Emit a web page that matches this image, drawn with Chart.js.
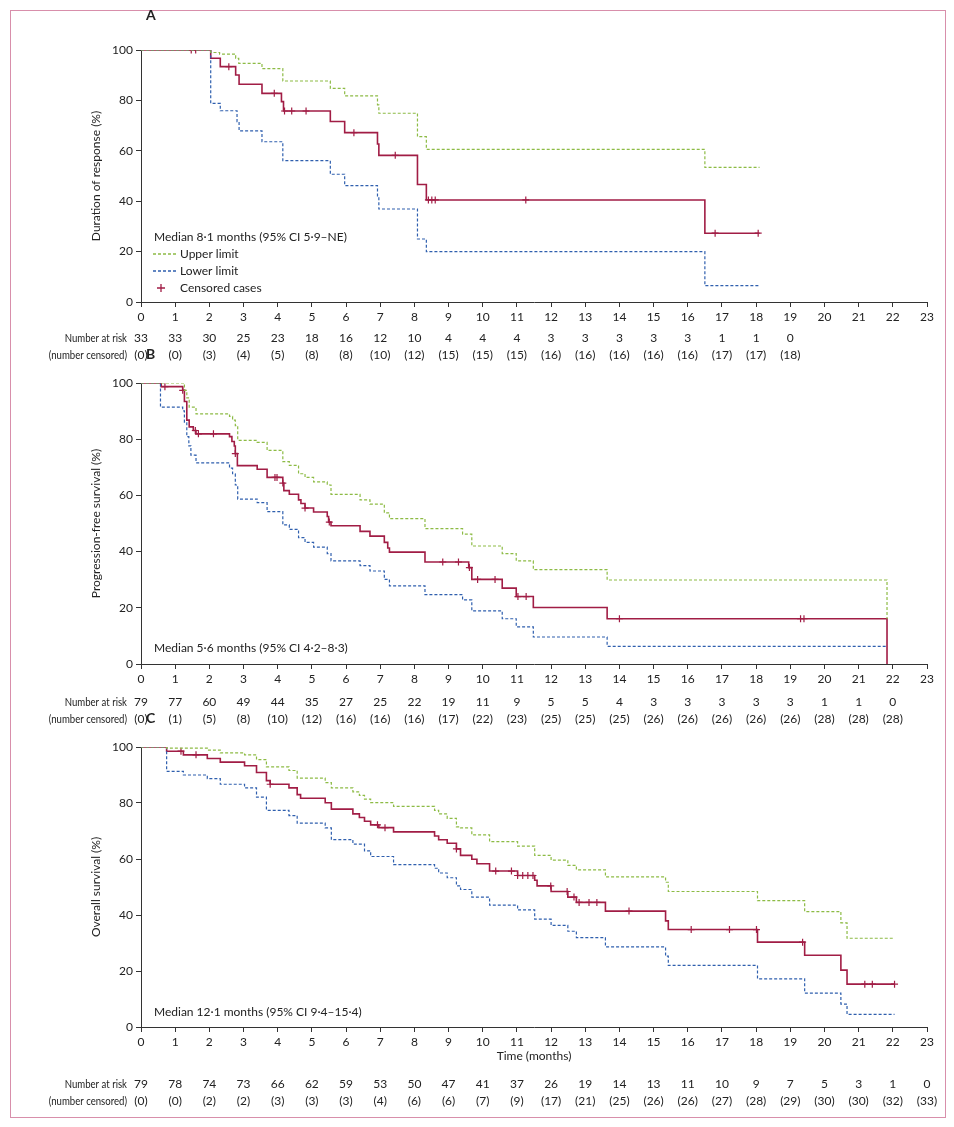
<!DOCTYPE html>
<html>
<head>
<meta charset="utf-8">
<script src="https://cdn.jsdelivr.net/npm/chart.js@4.4.1/dist/chart.umd.min.js"></script>
<style>
  body { margin: 0; background: #fff; }
  #wrap { position: relative; width: 954px; height: 1127px; }
  #frame { position: absolute; left: 10px; top: 10px; width: 934px; height: 1106px; border: 1.5px solid #d88fab; }
  canvas { position: absolute; left: 0; }
  .letter { position: absolute; left: 146px; font: bold 14px Lato, "Open Sans", sans-serif; color: #222; }
</style>
</head>
<body>
<div id="wrap">
  <div id="frame"></div>
  <canvas id="cA" style="top:0px"></canvas>
  <canvas id="cB" style="top:340px"></canvas>
  <canvas id="cC" style="top:705px"></canvas>
  <div class="letter" style="top:6px">A</div>
  <div class="letter" style="top:345px">B</div>
  <div class="letter" style="top:709px">C</div>
</div>
<script>
// ---- Panel A: duration of response ----
var aTimes = [2.04, 2.32, 2.77, 2.87, 3.54, 4.11, 4.17, 5.54, 5.96, 6.92, 6.96, 8.09, 8.35, 16.5, 18.1];
var aEst   = [96.7, 93.4, 90.1, 86.4, 82.8, 79.5, 75.8, 71.6, 67.2, 62.7, 58.2, 46.6, 40.5, 27.3, 27.3];
var aUpTimes = [2.04, 2.3, 2.77, 2.86, 3.54, 4.15, 5.54, 5.96, 6.92, 6.96, 8.09, 8.35, 16.5, 18.1];
var aUp      = [99.0, 98.4, 96.7, 94.7, 92.6, 87.7, 84.8, 81.8, 78.2, 74.9, 65.6, 60.6, 53.4, 53.4];
var aLoTimes = [2.04, 2.32, 2.81, 2.87, 3.54, 4.15, 5.54, 5.96, 6.92, 6.96, 8.09, 8.35, 16.5, 18.1];
var aLo      = [78.8, 75.9, 71.6, 67.9, 63.6, 56.1, 50.7, 46.2, 41.8, 36.9, 25.0, 20.0, 6.5, 6.5];
var aCensor  = [1.47, 1.6, 2.57, 3.9, 4.2, 4.41, 4.83, 6.23, 7.44, 8.41, 8.51, 8.61, 11.26, 16.8, 18.06];
var aRisk    = [33, 33, 30, 25, 23, 18, 16, 12, 10, 4, 4, 4, 3, 3, 3, 3, 3, 1, 1, 0];
var aCens    = [0, 0, 3, 4, 5, 8, 8, 10, 12, 15, 15, 15, 16, 16, 16, 16, 16, 17, 17, 18];

// ---- Panel B: progression-free survival ----
var bTimes = [0.59, 1.22, 1.27, 1.34, 1.41, 1.53, 1.61, 2.59, 2.66, 2.73, 2.76, 2.82, 3.40, 3.69, 4.15, 4.18, 4.34, 4.61, 4.68, 4.80, 5.05, 5.45, 5.49, 5.56, 6.41, 6.70, 7.12, 7.22, 7.27, 8.31, 9.59, 9.68, 10.57, 10.98, 11.48, 13.64, 21.83, 21.83];
var bEst   = [98.7, 97.4, 93.4, 86.8, 84.4, 83.1, 81.9, 80.9, 79.2, 77.6, 74.9, 70.6, 69.3, 66.4, 64.4, 61.7, 60.4, 58.4, 57.1, 55.5, 54.1, 52.5, 50.5, 49.2, 47.2, 45.5, 43.3, 41.3, 39.8, 36.3, 34.3, 30.1, 27.0, 24.0, 20.1, 16.1, 16.1, 0];
var bUpTimes = [1.27, 1.34, 1.41, 1.61, 2.59, 2.68, 2.76, 2.83, 3.40, 3.69, 4.15, 4.34, 4.61, 4.80, 5.05, 5.45, 5.56, 6.41, 6.70, 7.12, 7.27, 8.31, 9.41, 9.68, 10.57, 10.98, 11.48, 13.64, 21.83, 21.83];
var bUp      = [97.4, 94.7, 91.4, 89.0, 88.1, 86.8, 84.8, 79.6, 78.9, 76.0, 72.0, 70.7, 67.7, 66.4, 64.8, 63.7, 60.4, 58.4, 56.9, 53.8, 51.7, 48.2, 46.2, 42.0, 39.3, 36.7, 33.6, 29.9, 29.9, 16.1];
var bLoTimes = [0.57, 1.22, 1.27, 1.34, 1.40, 1.46, 1.61, 2.59, 2.68, 2.76, 2.83, 3.40, 3.69, 4.15, 4.34, 4.61, 4.80, 5.05, 5.45, 5.56, 6.41, 6.70, 7.12, 7.27, 8.31, 9.41, 9.68, 10.57, 10.98, 11.48, 13.64, 21.83];
var bLo      = [91.4, 90.1, 86.1, 80.9, 77.6, 74.3, 71.6, 69.7, 67.7, 63.7, 58.7, 57.4, 54.2, 49.5, 47.9, 45.0, 43.3, 41.6, 39.3, 36.7, 35.0, 33.1, 30.1, 27.8, 24.7, 22.8, 18.9, 16.1, 13.2, 9.6, 6.3, 6.3];
var bCensor  = [0.7, 1.22, 1.59, 1.68, 2.12, 2.76, 3.92, 3.98, 4.15, 4.8, 5.51, 8.83, 9.29, 9.61, 9.85, 10.36, 11.03, 11.27, 14.0, 19.3, 19.4];
var bRisk    = [79, 77, 60, 49, 44, 35, 27, 25, 22, 19, 11, 9, 5, 5, 4, 3, 3, 3, 3, 3, 1, 1, 0];
var bCens    = [0, 1, 5, 8, 10, 12, 16, 16, 16, 17, 22, 23, 25, 25, 25, 26, 26, 26, 26, 26, 28, 28, 28];

// ---- Panel C: overall survival ----
var cTimes = [0.75, 1.24, 1.94, 2.32, 3.03, 3.38, 3.67, 3.78, 4.33, 4.57, 4.67, 5.39, 5.57, 6.20, 6.39, 6.54, 6.72, 6.96, 7.39, 8.59, 8.71, 8.96, 9.23, 9.35, 9.68, 9.83, 10.2, 11.02, 11.52, 11.59, 12.0, 12.49, 12.74, 13.59, 15.35, 15.43, 18.04, 19.42, 20.48, 20.66, 22.05];
var cEst   = [98.5, 97.2, 95.9, 94.6, 93.3, 90.9, 88.0, 86.7, 85.4, 83.0, 81.7, 80.1, 77.8, 76.1, 74.8, 73.5, 72.2, 71.2, 69.7, 68.2, 66.9, 65.6, 63.6, 61.3, 59.9, 58.3, 55.7, 54.1, 52.4, 50.4, 48.4, 46.4, 44.5, 41.4, 37.9, 34.8, 30.3, 25.6, 20.3, 15.3, 15.3];
var cUpTimes = [0.75, 1.94, 2.32, 3.03, 3.38, 3.67, 4.33, 4.57, 5.39, 5.57, 6.20, 6.39, 6.54, 6.72, 7.39, 8.59, 8.71, 8.96, 9.23, 9.35, 9.68, 10.2, 11.02, 11.52, 12.0, 12.49, 12.74, 13.59, 15.35, 15.43, 18.04, 19.42, 20.48, 20.66, 22.05];
var cUp      = [99.6, 98.9, 97.9, 97.2, 95.5, 92.9, 91.6, 88.9, 87.3, 85.4, 84.0, 82.7, 81.4, 80.1, 78.8, 77.4, 76.1, 74.5, 71.5, 71.1, 68.6, 66.2, 64.6, 61.3, 59.6, 57.7, 56.1, 53.6, 51.7, 48.4, 45.1, 41.2, 37.2, 31.7, 31.7];
var cLoTimes = [0.75, 1.24, 1.94, 2.32, 3.03, 3.38, 3.67, 4.33, 4.57, 5.39, 5.57, 6.20, 6.54, 6.72, 7.39, 8.59, 8.71, 8.96, 9.23, 9.35, 9.68, 10.2, 11.02, 11.52, 12.0, 12.49, 12.74, 13.59, 15.35, 15.43, 18.04, 19.42, 20.48, 20.66, 22.05];
var cLo      = [91.3, 90.0, 88.7, 86.7, 85.4, 82.1, 77.4, 75.5, 72.8, 71.1, 66.9, 65.3, 62.9, 60.9, 58.0, 56.7, 55.0, 53.3, 50.4, 49.1, 46.4, 43.5, 41.8, 38.5, 36.3, 34.2, 31.9, 28.6, 25.3, 22.0, 17.2, 12.1, 8.2, 4.5, 4.5];
var cCensor  = [1.17, 1.61, 3.78, 6.92, 7.14, 9.23, 10.38, 10.84, 11.02, 11.17, 11.32, 11.47, 11.99, 12.47, 12.67, 12.82, 13.11, 13.34, 14.28, 16.1, 17.22, 18.01, 19.36, 21.18, 21.4, 22.05];
var cRisk    = [79, 78, 74, 73, 66, 62, 59, 53, 50, 47, 41, 37, 26, 19, 14, 13, 11, 10, 9, 7, 5, 3, 1, 0];
var cCens    = [0, 0, 2, 2, 3, 3, 3, 4, 6, 6, 7, 9, 17, 21, 25, 26, 26, 27, 28, 29, 30, 30, 32, 33];

var RED = '#a11d45', GREEN = '#8dbb45', BLUE = '#2f5fae', TXT = '#222';
var FONT = 'Lato, "Open Sans", sans-serif';

function steps(times, vals) {
    var pts = [{x: 0, y: 100}];
    for (var i = 0; i < times.length; i++) pts.push({x: times[i], y: vals[i]});
    return pts;
}

function survAt(times, vals, t) {
    var v = 100;
    for (var i = 0; i < times.length; i++) {
        if (times[i] <= t + 1e-9 && vals[i] > 0) v = vals[i];
    }
    return v;
}

// narrow text, like the condensed face of the original
function narrowText(ctx, s, x, y, align) {
    ctx.save();
    ctx.translate(x, y);
    ctx.scale(0.8, 1);
    ctx.textAlign = align;
    ctx.fillText(s, 0, 0);
    ctx.restore();
}

function makePanel(id, cfg) {
    var canvas = document.getElementById(id);
    canvas.width = 954;
    canvas.height = cfg.height;
    canvas.style.width = '954px';
    canvas.style.height = cfg.height + 'px';

    var censorPts = cfg.censor.map(function (t) {
        return {x: t, y: survAt(cfg.times, cfg.est, t)};
    });

    var decor = {
        id: 'decor',
        afterDraw: function (chart) {
            var ctx = chart.ctx, area = chart.chartArea, xs = chart.scales.x;
            ctx.save();
            ctx.fillStyle = TXT;
            ctx.textBaseline = 'middle';
            // y title
            ctx.font = '12px ' + FONT;
            ctx.save();
            ctx.translate(96, (area.top + area.bottom) / 2);
            ctx.rotate(-Math.PI / 2);
            ctx.textAlign = 'center';
            ctx.fillText(cfg.yTitle, 0, 0);
            ctx.restore();
            // median text + legend
            ctx.textAlign = 'left';
            ctx.fillText(cfg.median, 154, cfg.medianY);
            if (cfg.legend) {
                var items = [['Upper limit', GREEN], ['Lower limit', BLUE]];
                items.forEach(function (it, i) {
                    var y = cfg.medianY + 17 * (i + 1);
                    ctx.strokeStyle = it[1];
                    ctx.lineWidth = 1.3;
                    ctx.setLineDash([3, 2]);
                    ctx.beginPath(); ctx.moveTo(153, y); ctx.lineTo(177, y); ctx.stroke();
                    ctx.setLineDash([]);
                    ctx.fillText(it[0], 180, y);
                });
                var y3 = cfg.medianY + 51;
                ctx.strokeStyle = RED; ctx.lineWidth = 1.3;
                ctx.beginPath();
                ctx.moveTo(161, y3 - 4); ctx.lineTo(161, y3 + 4);
                ctx.moveTo(157, y3); ctx.lineTo(165, y3);
                ctx.stroke();
                ctx.fillText('Censored cases', 180, y3);
            }
            // number at risk table
            var r1 = area.bottom + cfg.riskOff, r2 = r1 + 17;
            narrowText(ctx, 'Number at risk', 127, r1, 'right');
            narrowText(ctx, '(number censored)', 127, r2, 'right');
            ctx.textAlign = 'center';
            for (var i = 0; i < cfg.risk.length; i++) {
                var px = xs.getPixelForValue(i);
                ctx.fillText(String(cfg.risk[i]), px, r1);
                ctx.fillText('(' + cfg.cens[i] + ')', px, r2);
            }
            ctx.restore();
        }
    };

    return new Chart(canvas, {
        type: 'line',
        data: {
            datasets: [
                {data: steps(cfg.upT, cfg.up), borderColor: GREEN, borderWidth: 1.2, borderDash: [3, 2], stepped: 'before', pointRadius: 0},
                {data: steps(cfg.loT, cfg.lo), borderColor: BLUE, borderWidth: 1.2, borderDash: [3, 2], stepped: 'before', pointRadius: 0},
                {data: steps(cfg.times, cfg.est), borderColor: RED, borderWidth: 1.6, stepped: 'before', pointRadius: 0},
                {type: 'scatter', data: censorPts, showLine: false, pointStyle: 'cross', pointRadius: 3.5, borderColor: RED, borderWidth: 1.2}
            ]
        },
        options: {
            responsive: false,
            animation: false,
            devicePixelRatio: 1,
            layout: {padding: {left: 0, right: 27, top: cfg.padTop, bottom: cfg.padBottom}},
            plugins: {legend: {display: false}, tooltip: {enabled: false}},
            scales: {
                x: {
                    type: 'linear', min: 0, max: 23,
                    afterFit: function (s) { s.height = cfg.axisH; },
                    ticks: {stepSize: 1, color: TXT, font: {family: FONT, size: 12}, maxRotation: 0, padding: 3},
                    grid: {drawOnChartArea: false, tickLength: 5, color: '#333'},
                    border: {color: '#333'},
                    title: {display: !!cfg.xTitle, text: cfg.xTitle || '', color: TXT, font: {family: FONT, size: 12}, padding: {top: 0}}
                },
                y: {
                    min: 0, max: 100,
                    afterFit: function (s) { s.width = 141; },
                    ticks: {stepSize: 20, color: TXT, font: {family: FONT, size: 12}, padding: 3},
                    grid: {drawOnChartArea: false, tickLength: 5, color: '#333'},
                    border: {color: '#333'}
                }
            }
        },
        plugins: [decor]
    });
}

makePanel('cA', {
    height: 384, padTop: 50, padBottom: 60, axisH: 22,
    yTitle: 'Duration of response (%)', median: 'Median 8·1 months (95% CI 5·9–NE)', medianY: 237, legend: true,
    times: aTimes, est: aEst, upT: aUpTimes, up: aUp, loT: aLoTimes, lo: aLo, censor: aCensor,
    risk: aRisk, cens: aCens, riskOff: 36
});
makePanel('cB', {
    height: 396, padTop: 43, padBottom: 50, axisH: 22,
    yTitle: 'Progression-free survival (%)', median: 'Median 5·6 months (95% CI 4·2–8·3)', medianY: 648 - 340, legend: false,
    times: bTimes, est: bEst, upT: bUpTimes, up: bUp, loT: bLoTimes, lo: bLo, censor: bCensor,
    risk: bRisk, cens: bCens, riskOff: 38
});
makePanel('cC', {
    height: 412, padTop: 42, padBottom: 50, axisH: 40,
    yTitle: 'Overall survival (%)', median: 'Median 12·1 months (95% CI 9·4–15·4)', medianY: 1012 - 705, legend: false,
    times: cTimes, est: cEst, upT: cUpTimes, up: cUp, loT: cLoTimes, lo: cLo, censor: cCensor,
    risk: cRisk, cens: cCens, riskOff: 57, xTitle: 'Time (months)'
});
</script>
</body>
</html>
